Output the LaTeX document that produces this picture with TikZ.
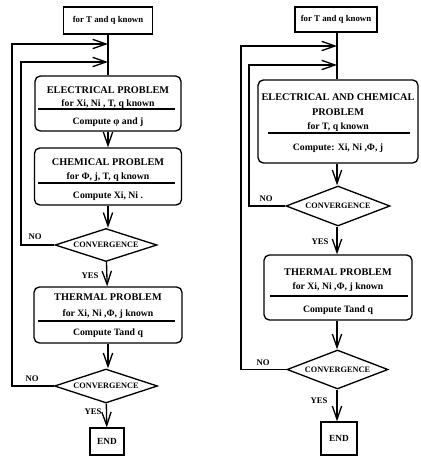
\documentclass[tikz,border=0pt]{standalone}
\usepackage{fontspec}
\setmainfont{Liberation Serif}
\usetikzlibrary{arrows.meta,shapes.geometric}

\tikzset{
  pbox/.style={draw,rounded corners=4pt,inner sep=0pt},
  sbox/.style={draw,inner sep=0pt},
  test/.style={draw,diamond,inner sep=0pt,label={center:\fontsize{6.2}{7}\selectfont CONVERGENCE}},
  ttl/.style={font=\bfseries\fontsize{7.7}{9}\selectfont},
  txt/.style={font=\bfseries\fontsize{7.3}{8}\selectfont},
  top/.style={font=\bfseries\fontsize{6.6}{8}\selectfont},
}

\begin{document}
\begin{tikzpicture}[x=.75pt,y=-.75pt,line width=1pt,>={Straight Barb[length=10pt,width=7pt]},font=\bfseries\fontsize{6.5}{7}\selectfont]
\useasboundingbox (0,0) rectangle (420,466);
% left chart
\begin{scope}
\node[sbox,minimum width=66.75pt,minimum height=20.25pt](T) at (108,20.5){};
\node[top](T1) at (108,20.5){for T and q known};
\node[pbox,minimum width=109.5pt,minimum height=41.25pt](E) at (108,103.5){};
\node[ttl](E1) at (108,90){ELECTRICAL PROBLEM};
\node[txt](E2) at (108,104){for Xi, Ni , T, q known};
\draw (38,109)--(175,109);
\node[txt](E3) at (108,122){Compute φ and  j};
\node[pbox,minimum width=110.25pt,minimum height=42.75pt](C) at (108,176.5){};
\node[ttl](C1) at (108,162){CHEMICAL PROBLEM};
\node[txt](C2) at (108,177){for Φ, j, T, q known};
\draw (38,183)--(175,183);
\node[txt](C3) at (108,196){Compute Xi, Ni .};
\node[test,minimum width=76.5pt,minimum height=24.75pt](D1) at (106,245){};
\node[pbox,minimum width=111pt,minimum height=42pt](H) at (108,315){};
\node[ttl](H1) at (108,297){THERMAL PROBLEM};
\node[txt](H2) at (108,314){for Xi, Ni ,Φ, j known};
\draw (38,321)--(175,321);
\node[txt](H3) at (108,333){Compute Tand q};
\node[test,minimum width=77.25pt,minimum height=25.5pt](D2) at (106,386){};
\node[sbox,minimum width=25.5pt,minimum height=20.25pt](Z) at (107,441.5){\fontsize{7}{8}\selectfont END};
\node(N1) at (35,237){NO};
\node(Y1) at (90,276){YES};
\node(N2) at (32,379){NO};
\node(Y2) at (93,412){YES};
\coordinate(J1) at (108,44);
\coordinate(J2) at (108,62);
\coordinate(L1) at (12,44);
\coordinate(L2) at (21,62);
\draw (T)--(E);
\draw[->](E)--(C);
\draw[->](C)--(C|-D1.north);
\draw[->](D1)--(H);
\draw[->](H)--(H|-D2.north);
\draw[->](D2)--(Z);
\draw[->](D1.west)-|(L2)--(J2);
\draw[->](D2.west)-|(L1)--(J1);
\end{scope}
% right chart
\begin{scope}
\node[sbox,minimum width=61.5pt,minimum height=18.75pt](T) at (336,19.5){};
\node[top](T1) at (336,19.5){for T and q known};
\node[pbox,minimum width=120pt,minimum height=62.25pt](E) at (338,121.5){};
\node[ttl](E1) at (338,97){ELECTRICAL AND CHEMICAL};
\node[ttl](E2) at (338,112){PROBLEM};
\node[txt](E3) at (338,127){for T, q known};
\draw (268,133)--(410,133);
\node[txt](E4) at (338,148){Compute: Xi, Ni ,Φ, j};
\node[test,minimum width=78pt,minimum height=30pt](D1) at (338,206){};
\node[pbox,minimum width=111pt,minimum height=48.75pt](H) at (338,287.5){};
\node[ttl](H1) at (338,272){THERMAL PROBLEM};
\node[txt](H2) at (338,287){for Xi, Ni ,Φ, j known};
\draw (270,296)--(408,296);
\node[txt](H3) at (338,310){Compute Tand q};
\node[test,minimum width=75.75pt,minimum height=29.25pt](D2) at (337.5,369.5){};
\node[sbox,minimum width=27pt,minimum height=24.75pt](Z) at (339,438.5){\fontsize{7}{8}\selectfont END};
\node(N1) at (266,199){NO};
\node(Y1) at (320,242){YES};
\node(N2) at (263,363){NO};
\node(Y2) at (319,401){YES};
\coordinate(J1) at (337,46);
\coordinate(J2) at (337,65);
\coordinate(L1) at (241,46);
\coordinate(L2) at (249,65);
\draw (T.south-|J1)--(J1|-E.north);
\draw[->](E.south-|J1)--(J1|-D1.north);
\draw[->](J1|-D1.south)--(J1|-H.north);
\draw[->](J1|-H.south)--(J1|-D2.north);
\draw[->](J1|-D2.south)--(J1|-Z.north);
\draw[->](D1.west)-|(L2)--(J2);
\draw[->](D2.west)-|(L1)--(J1);
\end{scope}
\end{tikzpicture}
\end{document}
